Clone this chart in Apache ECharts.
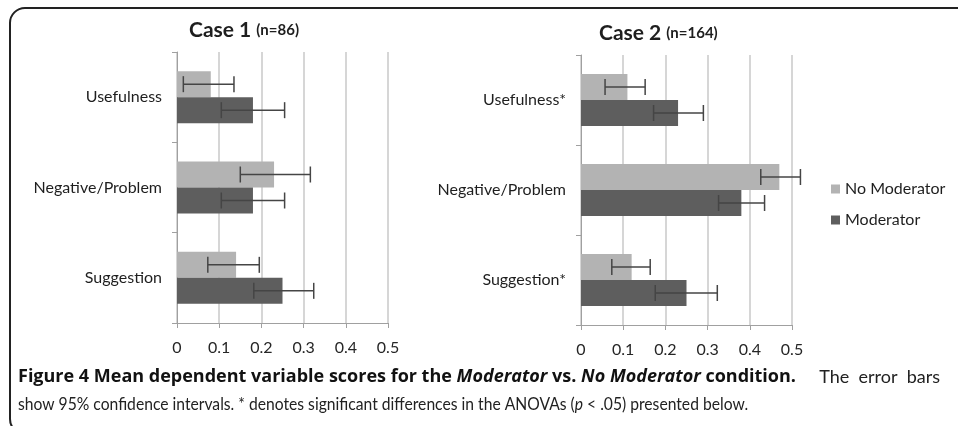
<!DOCTYPE html>
<html>
<head>
<meta charset="utf-8">
<script src="https://cdn.jsdelivr.net/npm/echarts@6/dist/echarts.min.js"></script>
<style>
  html, body { margin: 0; padding: 0; background: #fff; }
  #chart { width: 958px; height: 426px; }
</style>
</head>
<body>
<div id="chart"></div>
<script>
  // categories
  const case1Categories = ['Usefulness', 'Negative/Problem', 'Suggestion'];
  const case2Categories = ['Usefulness*', 'Negative/Problem', 'Suggestion*'];

  // Case 1 (n=86) means and 95% CI
  const case1NoMod = [0.08, 0.23, 0.14];
  const case1Mod = [0.18, 0.18, 0.25];
  const case1NoModLow = [0.015, 0.15, 0.073];
  const case1NoModHigh = [0.135, 0.316, 0.195];
  const case1ModLow = [0.105, 0.105, 0.182];
  const case1ModHigh = [0.255, 0.255, 0.324];

  // Case 2 (n=164) means and 95% CI
  const case2NoMod = [0.11, 0.47, 0.12];
  const case2Mod = [0.23, 0.38, 0.25];
  const case2NoModLow = [0.057, 0.426, 0.073];
  const case2NoModHigh = [0.152, 0.52, 0.164];
  const case2ModLow = [0.172, 0.326, 0.176];
  const case2ModHigh = [0.29, 0.435, 0.323];

  const lightGrey = '#b3b3b3';
  const darkGrey = '#5e5e5e';
  const axisGrey = '#a0a0a0';
  const font = 'Lato, "Open Sans", sans-serif';
  const capFont = '"Open Sans", Lato, sans-serif';

  const chart = echarts.init(document.getElementById('chart'));

  const errorData = (low, high) => low.map((l, i) => [i, l, high[i]]);

  // draws whisker + caps, shifted up/down to sit on its own bar
  const errorRenderer = (offset) => (params, api) => {
    const cat = api.value(0);
    const p1 = api.coord([api.value(1), cat]);
    const p2 = api.coord([api.value(2), cat]);
    const y = p1[1] + offset;
    const h = 8;
    const style = { stroke: '#454545', lineWidth: 1.5 };
    return {
      type: 'group',
      children: [
        { type: 'line', shape: { x1: p1[0], y1: y, x2: p2[0], y2: y }, style },
        { type: 'line', shape: { x1: p1[0], y1: y - h, x2: p1[0], y2: y + h }, style },
        { type: 'line', shape: { x1: p2[0], y1: y - h, x2: p2[0], y2: y + h }, style },
      ],
    };
  };

  const makeX = (gridIndex) => ({
    type: 'value',
    gridIndex,
    min: 0,
    max: 0.5,
    interval: 0.1,
    axisLine: { show: true, lineStyle: { color: axisGrey, width: 1 } },
    axisTick: { show: true, length: 5, lineStyle: { color: axisGrey } },
    splitLine: { show: true, lineStyle: { color: '#c8c8c8', width: 1.5 } },
    axisLabel: { fontSize: 16, fontFamily: font, color: '#262626', margin: 17 },
  });

  const makeY = (gridIndex, data) => ({
    type: 'category',
    gridIndex,
    inverse: true,
    data,
    axisLine: { show: true, lineStyle: { color: axisGrey, width: 1 } },
    axisTick: { show: true, length: 5, lineStyle: { color: axisGrey } },
    axisLabel: { fontSize: 16, fontFamily: font, color: '#1e1e1e', margin: 15 },
  });

  const makeBar = (name, idx, data, color) => ({
    name,
    type: 'bar',
    xAxisIndex: idx,
    yAxisIndex: idx,
    data,
    barWidth: 26,
    barGap: '0%',
    itemStyle: { color },
  });

  const makeErr = (idx, low, high, offset) => ({
    type: 'custom',
    name: 'err' + idx + '_' + offset,
    xAxisIndex: idx,
    yAxisIndex: idx,
    z: 5,
    data: errorData(low, high),
    encode: { x: [1, 2], y: 0 },
    renderItem: errorRenderer(offset),
  });

  const titleRich = {
    a: { fontSize: 21, fontWeight: 'bold', fontFamily: font, color: '#1e1e1e' },
    b: { fontSize: 15, fontWeight: 'bold', fontFamily: font, color: '#1e1e1e' },
  };

  const option = {
    animation: false,
    backgroundColor: '#fff',
    title: [
      { text: '{a|Case 1} {b|(n=86)}', left: 189, top: 20, padding: 0, textStyle: { rich: titleRich } },
      { text: '{a|Case 2} {b|(n=164)}', left: 599, top: 23, padding: 0, textStyle: { rich: titleRich } },
    ],
    legend: {
      data: ['No Moderator', 'Moderator'],
      orient: 'vertical',
      left: 826,
      top: 176,
      itemWidth: 9,
      itemHeight: 9,
      itemGap: 15,
      icon: 'rect',
      textStyle: { fontSize: 16, fontFamily: font, color: '#1e1e1e' },
    },
    grid: [
      { left: 177, top: 52, width: 211, height: 271 },
      { left: 581, top: 55, width: 211, height: 270 },
    ],
    xAxis: [makeX(0), makeX(1)],
    yAxis: [makeY(0, case1Categories), makeY(1, case2Categories)],
    series: [
      makeBar('No Moderator', 0, case1NoMod, lightGrey),
      makeBar('Moderator', 0, case1Mod, darkGrey),
      makeBar('No Moderator', 1, case2NoMod, lightGrey),
      makeBar('Moderator', 1, case2Mod, darkGrey),
      makeErr(0, case1NoModLow, case1NoModHigh, -13),
      makeErr(0, case1ModLow, case1ModHigh, 13),
      makeErr(1, case2NoModLow, case2NoModHigh, -13),
      makeErr(1, case2ModLow, case2ModHigh, 13),
    ],
    graphic: [
      {
        type: 'rect',
        shape: { x: 10, y: 8, width: 970, height: 426, r: [15, 0, 0, 15] },
        style: { fill: null, stroke: '#222', lineWidth: 2 },
        silent: true,
      },
      {
        type: 'text',
        x: 18,
        y: 368,
        style: {
          text: '{b|Figure 4 Mean dependent variable scores for the }{bi|Moderator}{b| vs. }{bi|No Moderator}{b| condition.}',
          rich: {
            b: { fontSize: 18, fontWeight: 'bold', fontFamily: capFont, fill: '#111' },
            bi: { fontSize: 18, fontWeight: 'bold', fontStyle: 'italic', fontFamily: capFont, fill: '#111' },
          },
        },
      },
      {
        type: 'text',
        x: 940,
        y: 368,
        style: {
          text: 'The  error  bars',
          align: 'right',
          fontSize: 18,
          fontFamily: font,
          fill: '#222',
        },
      },
      {
        type: 'text',
        x: 18,
        y: 395,
        scaleX: 0.87,
        style: {
          text: 'show 95% confidence intervals. * denotes significant differences in the ANOVAs ({i|p} < .05) presented below.',
          fontSize: 18,
          fontFamily: font,
          fill: '#222',
          rich: {
            i: { fontSize: 18, fontStyle: 'italic', fontFamily: font, fill: '#222' },
          },
        },
      },
    ],
  };

  chart.setOption(option);
</script>
</body>
</html>
